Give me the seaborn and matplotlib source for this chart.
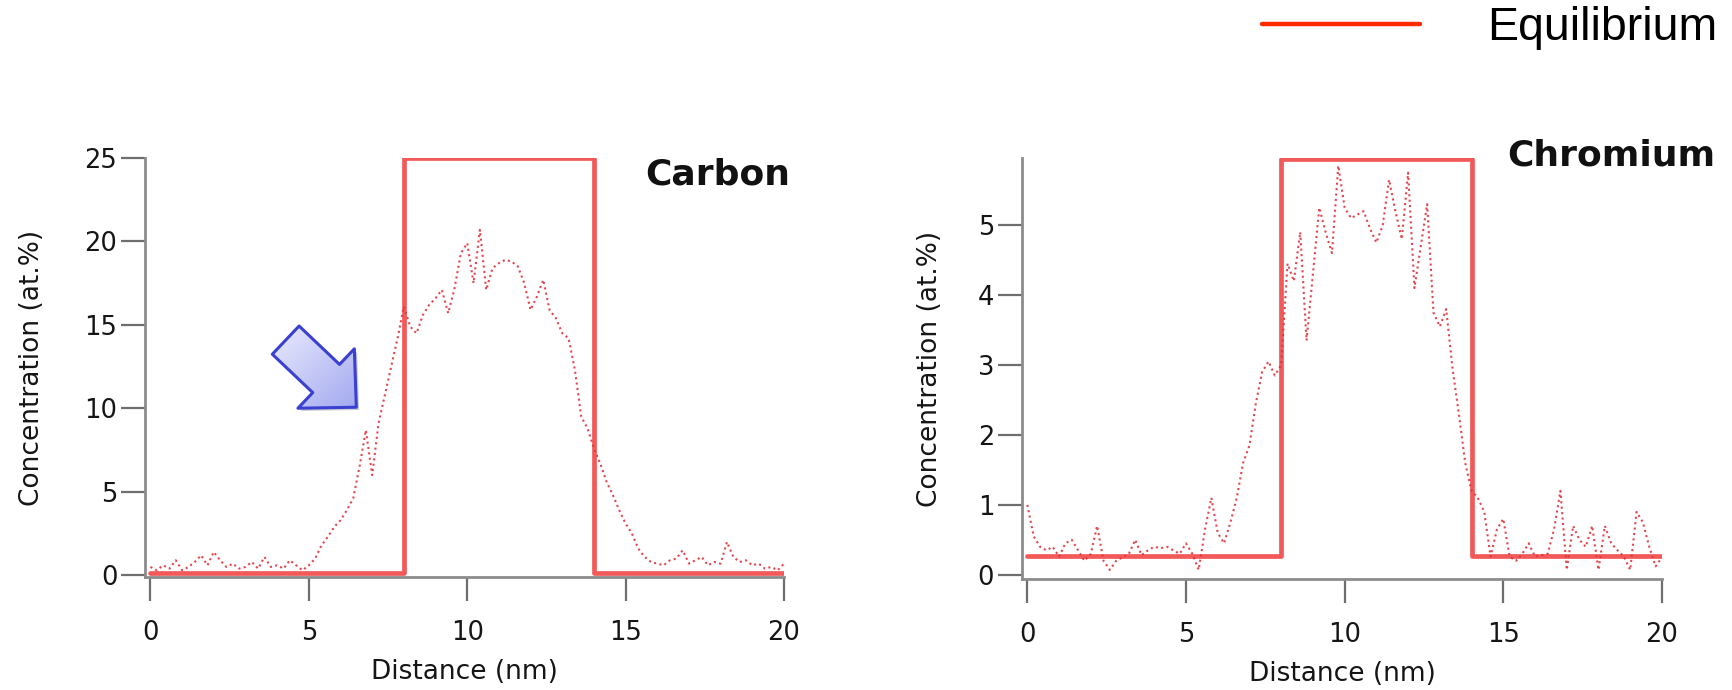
import numpy as np
import matplotlib
matplotlib.use("Agg")
import matplotlib.pyplot as plt
from matplotlib.lines import Line2D
from matplotlib.colors import LinearSegmentedColormap
from matplotlib import patheffects as pe
import seaborn as sns

# Sampling positions along the depth profile (nm)
distance = np.round(np.arange(0, 20.01, 0.2), 1)

# Measured carbon concentration (at.%)
carbon = [
    0.5, 0.3, 0.6, 0.4, 0.9, 0.3, 0.5, 0.8, 1.2, 0.6,
    1.4, 0.9, 0.5, 0.7, 0.4, 0.5, 0.8, 0.4, 1.1, 0.5,
    0.6, 0.4, 0.9, 0.6, 0.3, 0.6, 1.0, 1.8, 2.3, 2.9,
    3.3, 3.9, 4.6, 6.5, 8.7, 6.0, 9.1, 10.8, 12.5, 14.2,
    16.1, 14.9, 14.5, 15.6, 16.2, 16.6, 17.1, 15.7, 17.2, 19.3,
    19.9, 17.5, 20.7, 17.1, 18.4, 18.7, 18.9, 18.8, 18.5, 17.5,
    15.9, 16.7, 17.7, 15.9, 15.4, 14.5, 14.2, 12.3, 9.5, 8.8,
    7.6, 6.7, 5.6, 4.8, 3.9, 3.1, 2.5, 1.6, 1.1, 0.8,
    0.7, 0.6, 0.9, 1.0, 1.5, 0.7, 0.9, 1.1, 0.6, 0.8,
    0.7, 2.0, 1.1, 0.8, 0.9, 0.6, 0.7, 0.4, 0.5, 0.3,
    0.7,
]

# Measured chromium concentration (at.%)
chromium = [
    1.0, 0.55, 0.4, 0.35, 0.4, 0.26, 0.45, 0.5, 0.35, 0.2,
    0.3, 0.7, 0.2, 0.07, 0.2, 0.25, 0.3, 0.5, 0.28, 0.35,
    0.4, 0.38, 0.4, 0.35, 0.3, 0.45, 0.3, 0.07, 0.65, 1.1,
    0.6, 0.45, 0.75, 1.1, 1.6, 1.85, 2.45, 2.9, 3.05, 2.85,
    3.0, 4.45, 4.2, 4.9, 3.35, 4.3, 5.25, 4.9, 4.6, 5.85,
    5.25, 5.1, 5.15, 5.2, 4.95, 4.75, 5.0, 5.65, 5.2, 4.8,
    5.75, 4.1, 4.7, 5.3, 3.75, 3.55, 3.8, 2.95, 2.3, 1.6,
    1.2, 1.1, 0.9, 0.26, 0.65, 0.8, 0.26, 0.2, 0.3, 0.45,
    0.26, 0.28, 0.3, 0.65, 1.2, 0.07, 0.7, 0.5, 0.4, 0.7,
    0.07, 0.7, 0.45, 0.35, 0.26, 0.07, 0.9, 0.75, 0.4, 0.12,
    0.25,
]

# Equilibrium step profiles: level changes at the layer boundaries
eq_edges = [0, 8, 14, 20]
carbon_eq = [0.15, 25.0, 0.15, 0.15]
chromium_eq = [0.27, 5.95, 0.27, 0.27]

x_ticks = [0, 5, 10, 15, 20]
carbon_ticks = [0, 5, 10, 15, 20, 25]
chromium_ticks = [0, 1, 2, 3, 4, 5]

EQ_COLOR = "#f25a5a"
PROFILE_COLOR = "#e0323a"
LEGEND_COLOR = "#ff2a00"
SPINE_COLOR = "#8c8c8c"
TEXT_COLOR = "#151515"

sns.set_theme(style="white")
plt.rcParams["font.family"] = ["DejaVu Sans"]

fig = plt.figure(figsize=(17.33, 6.9), dpi=100)
fig.patch.set_facecolor("white")
ax1 = fig.add_axes([0.0837, 0.1638, 0.3687, 0.6072])
ax2 = fig.add_axes([0.5897, 0.1609, 0.3693, 0.6101])

panels = [
    (ax1, carbon, carbon_eq, carbon_ticks, (-0.1, 25.0), 28),
    (ax2, chromium, chromium_eq, chromium_ticks, (-0.06, 5.96), 25),
]

for ax, profile, eq, yticks, ylim, ypad in panels:
    sns.lineplot(x=eq_edges, y=eq, drawstyle="steps-post", color=EQ_COLOR,
                 lw=3.4, ax=ax, zorder=2)
    sns.lineplot(x=distance, y=profile, color=PROFILE_COLOR, lw=1.5,
                 linestyle=(0, (1, 1.6)), ax=ax, zorder=3, alpha=0.9)
    ax.set_xlim(-0.17, 20)
    ax.set_ylim(*ylim)
    ax.set_xticks(x_ticks)
    ax.set_yticks(yticks)
    for side in ("top", "right"):
        ax.spines[side].set_visible(False)
    for side in ("left", "bottom"):
        ax.spines[side].set_color(SPINE_COLOR)
        ax.spines[side].set_linewidth(2.0)
    ax.tick_params(axis="both", which="major", bottom=True, left=True,
                   direction="out", length=17, width=1.6, color="#6e6e6e",
                   labelsize=18.5, labelcolor=TEXT_COLOR)
    ax.tick_params(axis="x", pad=14)
    ax.tick_params(axis="y", pad=3)
    ax.set_xlabel("Distance (nm)", fontsize=19, color=TEXT_COLOR, labelpad=9)
    ax.set_ylabel("Concentration (at.%)", fontsize=19, color=TEXT_COLOR,
                  labelpad=ypad)
    ax.grid(False)

ax1.text(1.01, 0.96, "Carbon", transform=ax1.transAxes, ha="right",
         va="center", fontsize=26, fontweight="bold", color="#111111")
ax2.text(1.083, 1.005, "Chromium", transform=ax2.transAxes, ha="right",
         va="center", fontsize=26, fontweight="bold", color="#111111")

# Block arrow pointing at the carbon shoulder before the layer boundary
arrow_tip = (6.5, 10.07)
arrow_tail = (4.27, 14.09)
arrow_style = "simple,head_length=30,head_width=59,tail_width=28"
arrow_body = ax1.annotate(
    "", xy=arrow_tip, xytext=arrow_tail, xycoords="data",
    arrowprops=dict(
        arrowstyle=arrow_style, mutation_scale=1, shrinkA=0, shrinkB=0,
        fc="#c2c6f7", ec="none",
        path_effects=[pe.withSimplePatchShadow(offset=(2, -2),
                                               shadow_rgbFace="#777777",
                                               alpha=0.35),
                      pe.Normal()],
    ),
    zorder=5,
)
arrow_edge = ax1.annotate(
    "", xy=arrow_tip, xytext=arrow_tail, xycoords="data",
    arrowprops=dict(arrowstyle=arrow_style, mutation_scale=1, shrinkA=0,
                    shrinkB=0, fc="none", ec="#3a40d0", lw=2.2),
    zorder=5.2,
)

fig.legend(handles=[Line2D([], [], color=LEGEND_COLOR, lw=3.2)],
           labels=["Equilibrium"],
           loc="center right", bbox_to_anchor=(1717 / 1733, 1 - 28 / 690),
           frameon=False, borderpad=0, borderaxespad=0,
           handlelength=3.4, handletextpad=1.43, labelcolor="black",
           prop=dict(family="Liberation Sans", size=33.5))

# Light-to-blue gradient fill inside the arrow outline
fig.canvas.draw()
shade = LinearSegmentedColormap.from_list("arrow_shade", ["#f2f3ff", "#9aa0ee"])
gx, gy = np.meshgrid(np.linspace(0, 1, 64), np.linspace(0, 1, 64))
grad = ax1.imshow(gx + gy, cmap=shade, origin="upper", aspect="auto",
                  extent=(3.5, 7.0, 9.5, 15.5), zorder=5.1, interpolation="bilinear")
grad.set_clip_path(arrow_body.arrow_patch)
ax1.set_xlim(-0.17, 20)
ax1.set_ylim(-0.1, 25.0)

fig.savefig("out.png", dpi=100, facecolor="white")
